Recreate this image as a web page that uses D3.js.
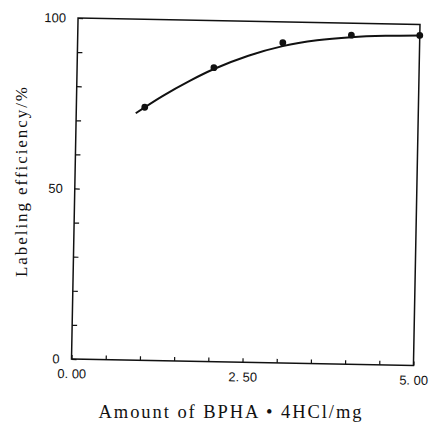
<!DOCTYPE html>
<html>
<head>
<meta charset="utf-8">
<script src="https://cdn.jsdelivr.net/npm/d3@7"></script>
<style>
  body { margin: 0; background: #fff; }
  svg { display: block; }
  .tick text { font-family: "Liberation Sans", Arial, sans-serif; font-size: 13px; fill: #111; }
  .title { font-family: "Liberation Serif", "Times New Roman", serif; fill: #111; }
</style>
</head>
<body>
<div id="container"></div>
<script>
// measured points (amount of BPHA.4HCl, mg  vs  labeling efficiency, %)
var amount = [1.0, 2.0, 3.0, 4.0, 5.0];
var efficiency = [74.2, 86.2, 93.9, 96.5, 96.8];

// hand drawn fitted curve
var curveX = [0.87, 1.25, 1.65, 2.0, 2.5, 3.0, 3.5, 4.0, 4.5, 5.0];
var curveY = [72.4, 77.5, 82.2, 85.8, 89.9, 92.9, 94.8, 95.9, 96.5, 96.8];

var xTicks = [0, 0.5, 1, 1.5, 2, 2.5, 3, 3.5, 4, 4.5, 5];
var xLabels = {"0": "0. 00", "2.5": "2. 50", "5": "5. 00"};
var yTicks = [0, 10, 20, 30, 40, 50, 60, 70, 80, 90, 100];
var yLabels = [0, 50, 100];

var W = 431, H = 425;
var margin = {top: 21.25, left: 74.75};
var w = 342, h = 341;

var svg = d3.select("#container").append("svg")
	.attr("width", W)
	.attr("height", H);

// the scanned frame is tilted a little, so turn the plot group around its centre
var cx = margin.left + w / 2, cy = margin.top + h / 2;
var g = svg.append("g")
	.attr("transform", "rotate(1.1," + cx + "," + cy + ") translate(" + margin.left + "," + margin.top + ")");

var x = d3.scaleLinear().domain([0, 5]).range([0, w]);
var y = d3.scaleLinear().domain([0, 100]).range([h, 0]);

// frame
g.append("rect")
	.attr("x", 0).attr("y", 0)
	.attr("width", w).attr("height", h)
	.attr("fill", "none")
	.attr("stroke", "#111")
	.attr("stroke-width", 1.5);

// x axis, ticks pointing inwards
var xAxis = d3.axisBottom(x)
	.tickValues(xTicks)
	.tickSizeInner(-4)
	.tickSizeOuter(0)
	.tickPadding(10)
	.tickFormat(function(d) { return xLabels[String(d)] || ""; });

g.append("g")
	.attr("transform", "translate(0," + h + ")")
	.call(xAxis)
	.call(function(a) { a.select(".domain").remove(); })
	.selectAll("line").attr("stroke", "#111").attr("stroke-width", 1.2);

// y axis
var yAxis = d3.axisLeft(y)
	.tickValues(yTicks)
	.tickSizeInner(-5)
	.tickSizeOuter(0)
	.tickPadding(12)
	.tickFormat(function(d) { return yLabels.indexOf(d) >= 0 ? d : ""; });

g.append("g")
	.call(yAxis)
	.call(function(a) { a.select(".domain").remove(); })
	.selectAll("line").attr("stroke", "#111").attr("stroke-width", 1.2);

// fitted curve
var line = d3.line()
	.x(function(d) { return x(d[0]); })
	.y(function(d) { return y(d[1]); })
	.curve(d3.curveMonotoneX);

g.append("path")
	.datum(d3.zip(curveX, curveY))
	.attr("d", line)
	.attr("fill", "none")
	.attr("stroke", "#111")
	.attr("stroke-width", 2);

// data points
g.selectAll("circle.pt")
	.data(d3.zip(amount, efficiency))
	.enter().append("circle")
	.attr("class", "pt")
	.attr("cx", function(d) { return x(d[0]); })
	.attr("cy", function(d) { return y(d[1]); })
	.attr("r", 3.4)
	.attr("fill", "#111");

// axis titles
svg.append("text")
	.attr("class", "title")
	.attr("x", 230)
	.attr("y", 418)
	.attr("text-anchor", "middle")
	.attr("font-size", 18.5)
	.attr("textLength", 263)
	.attr("lengthAdjust", "spacing")
	.text("Amount of BPHA • 4HCl/mg");

svg.append("text")
	.attr("class", "title")
	.attr("transform", "translate(27,182) rotate(-90)")
	.attr("text-anchor", "middle")
	.attr("font-size", 17)
	.attr("textLength", 190)
	.attr("lengthAdjust", "spacing")
	.text("Labeling efficiency/%");
</script>
</body>
</html>
